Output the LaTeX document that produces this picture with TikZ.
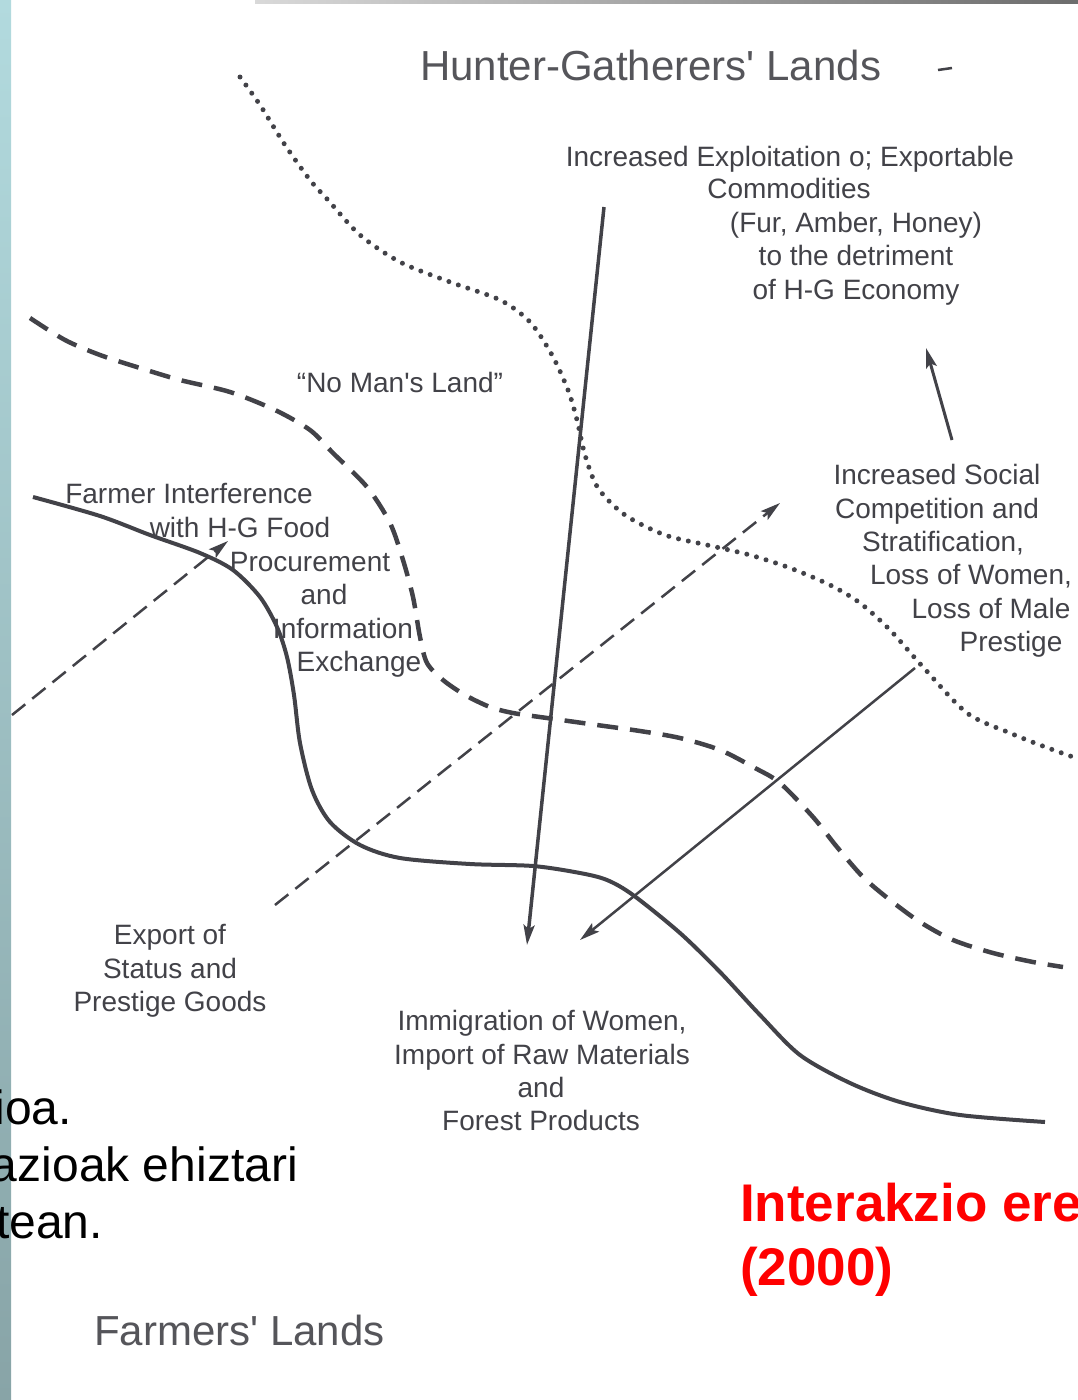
\documentclass[tikz,border=0pt]{standalone}
\usepackage{fontspec}
\setmainfont{Liberation Sans}
\usetikzlibrary{arrows.meta}
\definecolor{ink}{RGB}{66,66,72}
\definecolor{bartop}{RGB}{178,218,222}
\definecolor{barbot}{RGB}{136,164,167}
\newcommand{\lblfont}{\fontsize{28}{33.5}\selectfont}
\newcommand{\landfont}{\fontsize{42}{48}\selectfont}

\begin{document}
\begin{tikzpicture}[x=1pt,y=-1pt,
    >={Stealth[length=20pt,width=11pt,inset=4pt]},
    lbl/.style={font=\lblfont,text=ink,inner sep=0pt,anchor=base},
    land/.style={font=\landfont,text=ink!90,inner sep=0pt,anchor=base west},
    slidetxt/.style={font=\fontsize{48}{57}\selectfont,inner sep=0pt,anchor=base east},
    redtxt/.style={font=\fontsize{53}{64}\selectfont\bfseries,text=red,inner sep=0pt,anchor=base west},
    frontier/.style={draw=ink,line width=4pt},
    nomans/.style={draw=ink,line width=4.5pt,dash pattern=on 21pt off 12pt},
    hgline/.style={draw=ink,line width=5pt,line cap=round,dash pattern=on 0pt off 10pt},
    flow/.style={draw=ink,->},
    flowdash/.style={draw=ink,->,line width=2.5pt,dash pattern=on 17pt off 9pt}]
    \useasboundingbox (0,0) rectangle (1078,1400);
    \fill[white] (0,0) rectangle (1078,1400);
    \clip (0,0) rectangle (1078,1400);

    % slide frame
    \shade[top color=bartop,bottom color=barbot] (0,0) rectangle (11,1400);
    \shade[left color=gray!30,right color=gray!85!black] (255,0) rectangle (1078,3);

    % boundaries
    \draw[frontier] plot[smooth] coordinates {(33,497) (100,516) (150,535) (200,553) (233,570)
        (260,597) (277,627) (287,657) (294,695) (300,743) (312,790) (330,822) (360,845)
        (400,858) (470,864) (533,866) (580,873) (607,880) (633,895) (680,933) (720,972)
        (760,1015) (800,1055) (850,1083) (900,1102) (960,1115) (1045,1122)};
    \draw[nomans] plot[smooth] coordinates {(30,318) (65,340) (100,355) (140,368) (180,380)
        (230,392) (275,410) (310,430) (333,453) (367,487) (390,523) (403,560) (413,597)
        (420,637) (427,663) (443,680) (465,695) (490,707) (513,713) (547,718) (597,725)
        (640,731) (680,738) (720,750) (755,768) (780,783) (813,817) (837,847) (863,877)
        (890,900) (920,922) (953,940) (993,953) (1033,962) (1063,967)};
    \draw[hgline] plot[smooth] coordinates {(240,77) (260,105) (285,145) (310,180) (328,200)
        (360,235) (400,262) (450,282) (500,300) (530,322) (552,355) (568,390) (577,420)
        (585,455) (598,488) (625,515) (665,535) (707,545) (750,555) (790,568) (830,585)
        (860,603) (890,630) (923,667) (967,713) (1010,733) (1040,745) (1073,757)};

    % lands
    \node[land] (hgland) at (420,80) {Hunter-Gatherers\textquotesingle\ Lands};
    \draw[ink,line width=2.5pt] (938,70) -- (952,68);
    \node[land] (farmland) at (94,1345) {Farmers\textquotesingle\ Lands};
    \node[lbl] (noman) at (400,392) {“No Man\textquotesingle s Land”};

    % exportable commodities
    \node[lbl] (com1) at (790,166) {Increased Exploitation o; Exportable};
    \node[lbl] (com2) at (789,198) {Commodities};
    \node[lbl] (com3) at (856,232) {(Fur, Amber, Honey)};
    \node[lbl] (com4) at (856,265) {to the detriment};
    \node[lbl] (com5) at (856,299) {of H-G Economy};

    % farmer interference
    \node[lbl] (int1) at (189,503) {Farmer Interference};
    \node[lbl] (int2) at (240,537) {with H-G Food};
    \node[lbl] (int3) at (310,571) {Procurement};
    \node[lbl] (int4) at (324,604) {and};
    \node[lbl] (int5) at (343,638) {Information};
    \node[lbl] (int6) at (359,671) {Exchange};

    % social competition
    \node[lbl] (soc1) at (937,484) {Increased Social};
    \node[lbl] (soc2) at (937,518) {Competition and};
    \node[lbl] (soc3) at (943,551) {Stratification,};
    \node[lbl] (soc4) at (971,584) {Loss of Women,};
    \node[lbl] (soc5) at (991,618) {Loss of Male};
    \node[lbl] (soc6) at (1011,651) {Prestige};

    % prestige goods
    \node[lbl] (pre1) at (170,944) {Export of};
    \node[lbl] (pre2) at (170,978) {Status and};
    \node[lbl] (pre3) at (170,1011) {Prestige Goods};

    % immigration
    \node[lbl] (imm1) at (542,1030) {Immigration of Women,};
    \node[lbl] (imm2) at (542,1064) {Import of Raw Materials};
    \node[lbl] (imm3) at (541,1097) {and};
    \node[lbl] (imm4) at (541,1130) {Forest Products};

    % arrow ends
    \coordinate (comout) at (604,207);
    \coordinate (immin) at (527,945);
    \coordinate (socout) at (915,668);
    \coordinate (immin2) at (580,940);
    \coordinate (soctop) at (952,440);
    \coordinate (combot) at (926,348);
    \coordinate (preout) at (275,905);
    \coordinate (socin) at (780,503);
    \coordinate (edge) at (12,715);
    \coordinate (intin) at (228,541);

    \draw[flow,line width=3.5pt] (comout) -- (immin);
    \draw[flow,line width=2.5pt] (socout) -- (immin2);
    \draw[flow,line width=3pt] (soctop) -- (combot);
    \draw[flowdash] (preout) -- (socin);
    \draw[flowdash] (edge) -- (intin);

    % slide text
    \node[slidetxt] (sl1) at (72,1124) {ioa.};
    \node[slidetxt] (sl2) at (298,1181) {azioak ehiztari};
    \node[slidetxt] (sl3) at (103,1238) {tean.};
    \node[redtxt] (red1) at (740,1221) {Interakzio ere};
    \node[redtxt] (red2) at (740,1285) {(2000)};
\end{tikzpicture}
\end{document}
